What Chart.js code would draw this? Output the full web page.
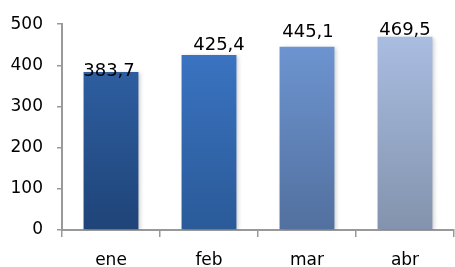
<!DOCTYPE html>
<html>
<head>
<meta charset="utf-8">
<script src="https://cdn.jsdelivr.net/npm/chart.js@4/dist/chart.umd.min.js"></script>
<style>
html,body{margin:0;padding:0;background:#fff;}
#wrap{width:455px;height:267px;position:relative;}
</style>
</head>
<body>
<div id="wrap"><canvas id="c" width="455" height="267"></canvas></div>
<script>
// ---- data ----
const categories = ['ene', 'feb', 'mar', 'abr'];
const values = [383.7, 425.4, 445.1, 469.5];
const valueLabels = ['383,7', '425,4', '445,1', '469,5'];
const yTicks = [0, 100, 200, 300, 400, 500];

// ---- styles ----
const gradTop = ['#2e5ea0', '#3a73c1', '#6d94d0', '#a9bde1'];
const gradBottom = ['#1f4478', '#2a5a98', '#52709f', '#8393ad'];
const labelDx = [-2, 10, 1, 0];
const labelDy = [4, -5, -10, -2];
const FONT = "'DejaVu Sans', sans-serif";

function barGradient(ctx) {
  const chart = ctx.chart;
  const i = ctx.dataIndex;
  const ys = chart.scales.y;
  if (!chart.chartArea || !ys || i === undefined) return gradTop[i || 0];
  const top = ys.getPixelForValue(values[i]);
  const bot = ys.getPixelForValue(0);
  const g = chart.ctx.createLinearGradient(0, top, 0, bot);
  g.addColorStop(0, gradTop[i]);
  g.addColorStop(1, gradBottom[i]);
  return g;
}

const labelPlugin = {
  id: 'labels',
  beforeDatasetsDraw(chart) {
    const c = chart.ctx;
    c.save();
    c.shadowColor = 'rgba(0,0,0,0.2)';
    c.shadowBlur = 4;
    c.shadowOffsetX = 2;
    c.shadowOffsetY = 1;
  },
  afterDatasetsDraw(chart) {
    const c = chart.ctx;
    c.restore();
    const meta = chart.getDatasetMeta(0);
    c.save();
    c.font = '18px ' + FONT;
    c.fillStyle = '#000';
    c.textAlign = 'center';
    c.textBaseline = 'alphabetic';
    meta.data.forEach((el, i) => {
      c.fillText(valueLabels[i], el.x + labelDx[i], el.y + labelDy[i]);
    });
    c.restore();
  }
};

new Chart(document.getElementById('c'), {
  type: 'bar',
  data: {
    labels: categories,
    datasets: [{
      data: values,
      backgroundColor: barGradient,
      borderWidth: 0,
      categoryPercentage: 1,
      barPercentage: 0.56
    }]
  },
  options: {
    responsive: false,
    animation: false,
    devicePixelRatio: 1,
    layout: { padding: { top: 21, right: 1, left: 0, bottom: 0 } },
    plugins: { legend: { display: false }, tooltip: { enabled: false } },
    scales: {
      x: {
        grid: { display: true, drawOnChartArea: false, offset: true, tickLength: 7, color: '#999', lineWidth: 1.5 },
        border: { display: true, color: '#999', width: 2 },
        ticks: { color: '#000', font: { family: FONT, size: 17 }, padding: 13 },
        afterFit(s) { s.height = 37; }
      },
      y: {
        min: 0, max: 500,
        afterBuildTicks(s) { s.ticks = yTicks.map(v => ({ value: v })); },
        grid: { display: true, drawOnChartArea: false, tickLength: 5, color: '#999', lineWidth: 1.5 },
        border: { display: true, color: '#999', width: 2 },
        ticks: { color: '#000', font: { family: FONT, size: 17 }, padding: 14 },
        afterFit(s) { s.width = 62; }
      }
    }
  },
  plugins: [labelPlugin]
});
</script>
</body>
</html>
